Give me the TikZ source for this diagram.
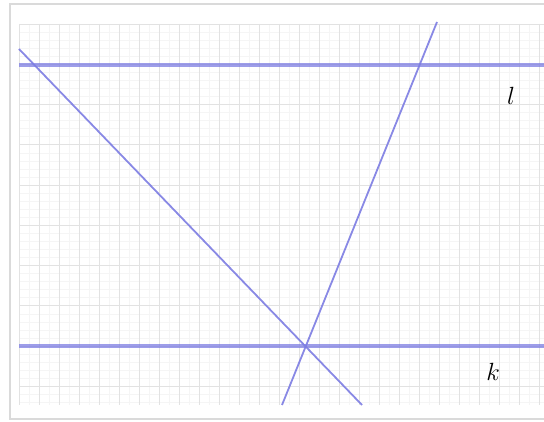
\documentclass[tikz,border=0pt]{standalone}
\usepackage{tikz}
\usetikzlibrary{positioning,calc}
\definecolor{Lavender}{HTML}{7C7CE2}
\definecolor{GridMajor}{HTML}{E2E2E2}
\definecolor{GridMinor}{HTML}{F5F5F5}
\definecolor{Frame}{HTML}{DADADA}
\tikzset{
    every node/.style={font=\small},
    gridmajor/.style={draw=GridMajor, line width=0.8pt},
    gridminor/.style={draw=GridMinor, line width=0.5pt},
    parline/.style={draw=Lavender, line width=3.2pt, opacity=0.75},
    cutline/.style={draw=Lavender, line width=1.8pt, opacity=0.9},
    linelabel/.style={font=\Huge, inner sep=0pt, text=black}
}
\begin{document}
\begin{tikzpicture}[x=1pt, y=-1pt]
    \useasboundingbox (0,0) rectangle (544,422);
    % Frame
    \draw[Frame, line width=2pt] (544,4) -- (10,4) -- (10,419) -- (544,419);

    % Grid
    \foreach \gx in {19,29,...,544} \draw[gridminor] (\gx,24) -- (\gx,405);
    \foreach \gy in {24,32.05,...,405} \draw[gridminor] (19,\gy) -- (544,\gy);
    \foreach \gx in {19,39,...,539} \draw[gridmajor] (\gx,24) -- (\gx,405);
    \foreach \gy in {24,64.25,...,400} \draw[gridmajor] (19,\gy) -- (544,\gy);

    % End points
    \coordinate (lW) at (19,65);
    \coordinate (lE) at (544,65);
    \coordinate (kW) at (19,346);
    \coordinate (kE) at (544,346);
    \coordinate (aN) at (19,49);
    \coordinate (aS) at (362,405);
    \coordinate (bS) at (282,405);
    \coordinate (bN) at (437,22);

    % Lines
    \draw[parline] (lW) -- (lE);
    \draw[parline] (kW) -- (kE);
    \draw[cutline] (aN) -- (aS);
    \draw[cutline] (bS) -- (bN);

    % Labels
    \node[linelabel] (labl) at (511,96) {$l$};
    \node[linelabel] (labk) at (493,372) {$k$};
\end{tikzpicture}
\end{document}
